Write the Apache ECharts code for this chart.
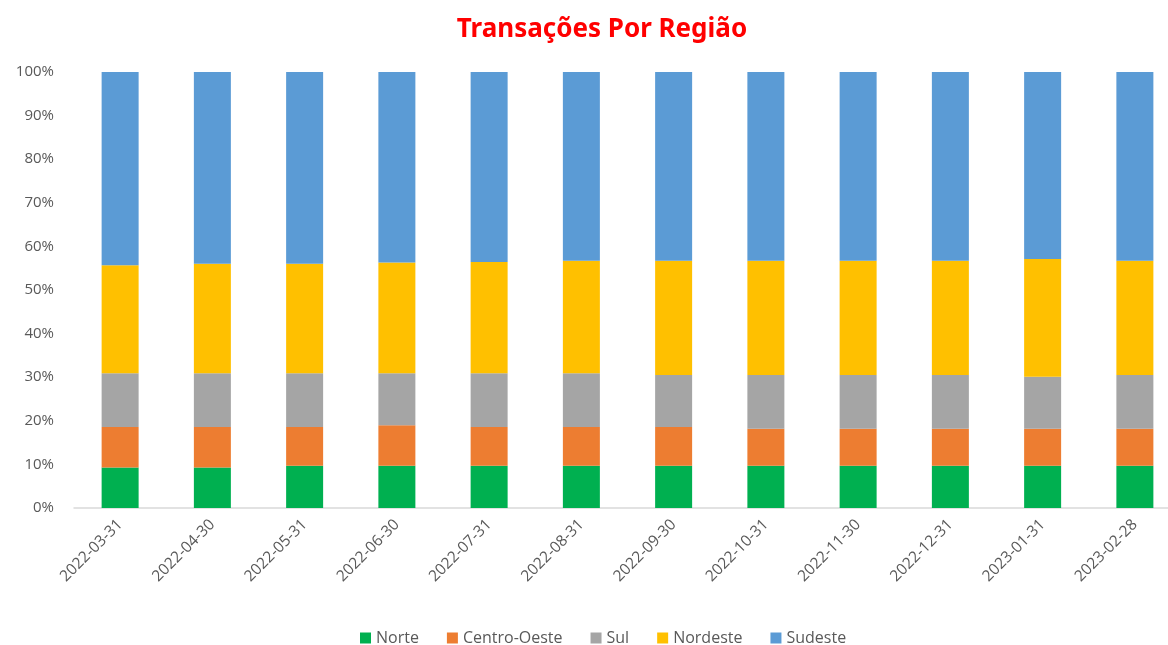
<!DOCTYPE html>
<html>
<head>
<meta charset="utf-8">
<script src="https://cdn.jsdelivr.net/npm/echarts@6/dist/echarts.min.js"></script>
<style>
  html, body { margin: 0; padding: 0; background: #fff; }
  #chart { width: 1168px; height: 645px; }
</style>
</head>
<body>
<div id="chart"></div>
<script>
// months (end of month)
let categories = ['2022-03-31', '2022-04-30', '2022-05-31', '2022-06-30', '2022-07-31', '2022-08-31',
    '2022-09-30', '2022-10-31', '2022-11-30', '2022-12-31', '2023-01-31', '2023-02-28'];

// share of transactions per region, in %
let norte = [9.3, 9.3, 9.7, 9.7, 9.7, 9.7, 9.7, 9.7, 9.7, 9.7, 9.7, 9.7];
let centroOeste = [9.3, 9.3, 8.9, 9.3, 8.9, 8.9, 8.9, 8.5, 8.5, 8.5, 8.5, 8.5];
let sul = [12.3, 12.3, 12.3, 11.9, 12.3, 12.3, 11.9, 12.3, 12.3, 12.3, 11.9, 12.3];
let nordeste = [24.8, 25.1, 25.1, 25.4, 25.5, 25.8, 26.2, 26.2, 26.2, 26.2, 27.0, 26.2];
let sudeste = [44.3, 44.0, 44.0, 43.7, 43.6, 43.3, 43.3, 43.3, 43.3, 43.3, 42.9, 43.3];

let yTicks = [0, 10, 20, 30, 40, 50, 60, 70, 80, 90, 100];

let seriesList = [
    {name: 'Norte', data: norte, color: '#00b050'},
    {name: 'Centro-Oeste', data: centroOeste, color: '#ed7d31'},
    {name: 'Sul', data: sul, color: '#a5a5a5'},
    {name: 'Nordeste', data: nordeste, color: '#ffc000'},
    {name: 'Sudeste', data: sudeste, color: '#5b9bd5'}
];

let myChart = echarts.init(document.getElementById('chart'));
let option = {
    animation: false,
    title: {
        text: 'Transações Por Região',
        left: 597,
        textAlign: 'center',
        top: 12,
        textStyle: {color: '#ff0000', fontSize: 26, fontWeight: 'bold', fontFamily: 'Noto Sans, sans-serif'}
    },
    legend: {
        top: 625,
        left: 355,
        orient: 'horizontal',
        itemWidth: 11,
        itemHeight: 11,
        itemGap: 28,
        icon: 'rect',
        textStyle: {color: '#595959', fontSize: 16, fontFamily: 'Open Sans, sans-serif'},
        data: seriesList.map(function (s) { return s.name; })
    },
    grid: {left: 74, width: 1107, top: 72, height: 436, outerBoundsMode: 'none'},
    xAxis: {
        type: 'category',
        data: categories,
        axisLine: {lineStyle: {color: '#d9d9d9', width: 1.5}},
        axisTick: {show: false},
        axisLabel: {rotate: 45, color: '#595959', fontSize: 15.5, margin: 14, fontFamily: 'Open Sans, sans-serif'}
    },
    yAxis: {
        type: 'value',
        min: yTicks[0],
        max: yTicks[yTicks.length - 1],
        interval: 10,
        splitLine: {show: false},
        axisLine: {show: false},
        axisTick: {show: false},
        axisLabel: {
            color: '#595959', fontSize: 15, margin: 20, fontFamily: 'Open Sans, sans-serif',
            formatter: function (v) { return v + '%'; }
        }
    },
    series: seriesList.map(function (s) {
        return {
            name: s.name,
            type: 'bar',
            stack: 'total',
            barWidth: 37,
            data: s.data,
            itemStyle: {color: s.color}
        };
    })
};
myChart.setOption(option);
</script>
</body>
</html>
